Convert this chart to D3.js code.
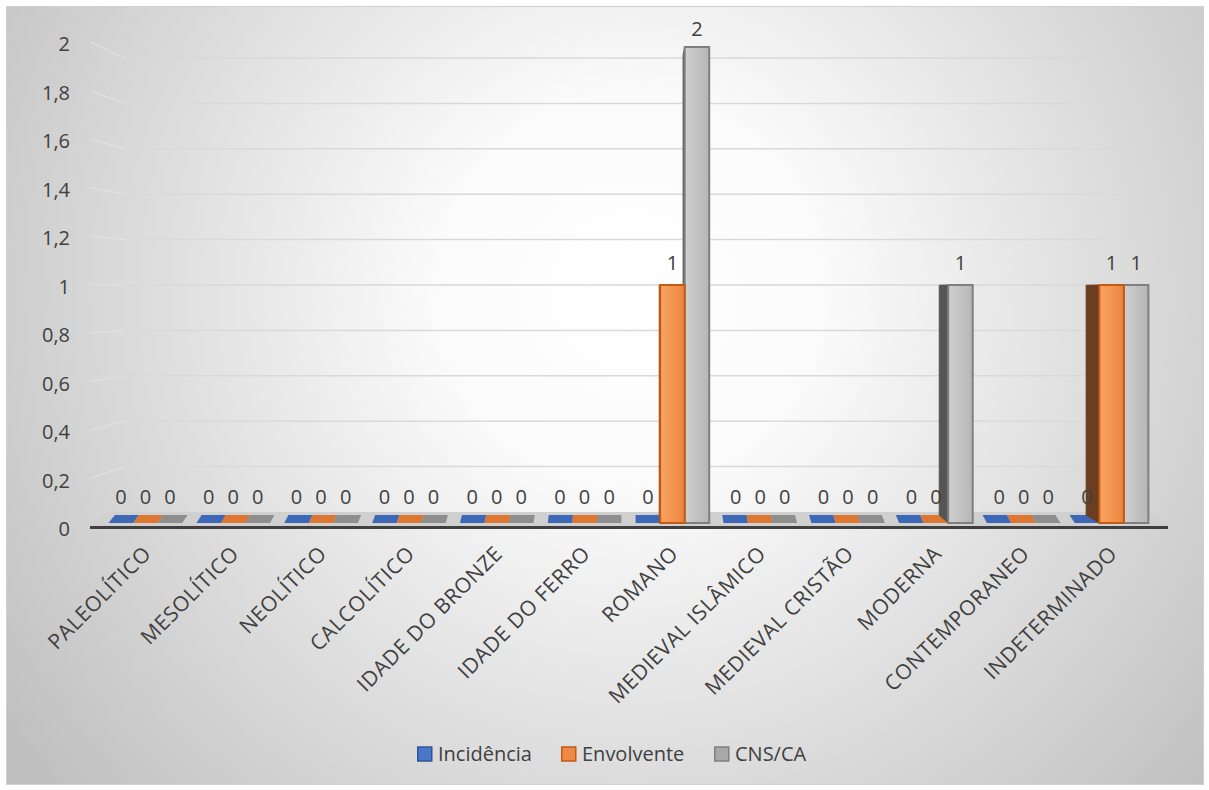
<!DOCTYPE html>
<html>
<head>
<meta charset="utf-8">
<script src="https://cdn.jsdelivr.net/npm/d3@7/dist/d3.min.js"></script>
<style>
  html, body { margin: 0; padding: 0; background: #fff; }
  svg { display: block; font-family: "Open Sans", sans-serif; }
</style>
</head>
<body>
<div class="chart"></div>
<script>
const categories = ["PALEOLÍTICO", "MESOLÍTICO", "NEOLÍTICO", "CALCOLÍTICO", "IDADE DO BRONZE",
  "IDADE DO FERRO", "ROMANO", "MEDIEVAL ISLÂMICO", "MEDIEVAL CRISTÃO", "MODERNA",
  "CONTEMPORANEO", "INDETERMINADO"];
const seriesNames = ["Incidência", "Envolvente", "CNS/CA"];
const incidencia = [0, 0, 0, 0, 0, 0, 0, 0, 0, 0, 0, 0];
const envolvente = [0, 0, 0, 0, 0, 0, 1, 0, 0, 0, 0, 1];
const cnsCa = [0, 0, 0, 0, 0, 0, 2, 0, 0, 1, 0, 1];
const yTicks = [0, 0.2, 0.4, 0.6, 0.8, 1, 1.2, 1.4, 1.6, 1.8, 2];

var w = 1209,
  h = 790,
  vpX = 629,
  vpY = 292;

const seriesValues = [incidencia, envolvente, cnsCa];
const slabColor = ["#3d67b7", "#dc7630", "#8e8e8e"];
const legendFill = ["#4a78c8", "#f08a48", "#a8a8a8"];
const legendStroke = ["#2f5597", "#c55a11", "#7f7f7f"];

const svg = d3.select(".chart").append("svg").attr("width", w).attr("height", h);
const defs = svg.append("defs");

const bg = defs.append("radialGradient").attr("id", "bg")
  .attr("gradientUnits", "userSpaceOnUse")
  .attr("cx", 630).attr("cy", 290).attr("r", 760);
bg.append("stop").attr("offset", "0").attr("stop-color", "#ffffff");
bg.append("stop").attr("offset", "0.25").attr("stop-color", "#fbfbfb");
bg.append("stop").attr("offset", "1").attr("stop-color", "#c0c0c0");

function hGrad(id, c1, c2, c3) {
  const g = defs.append("linearGradient").attr("id", id)
    .attr("x1", "0").attr("x2", "1").attr("y1", "0").attr("y2", "0");
  g.append("stop").attr("offset", "0").attr("stop-color", c1);
  g.append("stop").attr("offset", "0.45").attr("stop-color", c2);
  g.append("stop").attr("offset", "1").attr("stop-color", c3);
}
hGrad("g0", "#5a86d4", "#4a78c8", "#3f68b6");
hGrad("g1", "#f9a466", "#f49652", "#ea8440");
hGrad("g2", "#d0d0d0", "#c4c4c4", "#b6b6b6");

svg.append("rect").attr("x", 0).attr("y", 0).attr("width", w).attr("height", h).attr("fill", "#fff");
svg.append("rect")
  .attr("x", 6.5).attr("y", 6.5).attr("width", 1197).attr("height", 778)
  .attr("fill", "url(#bg)").attr("stroke", "#d0d0d0").attr("stroke-width", 1);

// scales
const x0 = d3.scaleBand().domain(categories).range([101.5, 1155.5]);
const x1 = d3.scaleBand().domain(seriesNames).range([0, x0.bandwidth()]).paddingOuter(0.29);
const yFront = d3.scaleLinear().domain([0, 2]).range([527, 42]);
const yBack = d3.scaleLinear().domain([0, 2]).range([512, 58]);
const yBar = d3.scaleLinear().domain([0, 2]).range([523, 47]);

// back wall gridlines
const grid = svg.append("g");
yTicks.filter((t) => t > 0).forEach((t) => {
  grid.append("path")
    .attr("d", "M90," + yFront(t) + "L125," + yBack(t))
    .attr("fill", "none")
    .attr("stroke", "#e2e2e2")
    .attr("stroke-width", 1.2);
  grid.append("path")
    .attr("d", "M125," + yBack(t) + "L1133," + yBack(t))
    .attr("fill", "none")
    .attr("stroke", "#d9d9d9")
    .attr("stroke-width", 1.5);
});

// y labels
svg.append("g").selectAll("text")
  .data(yTicks)
  .enter()
  .append("text")
  .attr("x", 70)
  .attr("y", (d) => yFront(d) + 2)
  .attr("dy", "0.35em")
  .attr("text-anchor", "end")
  .attr("font-size", 20)
  .attr("fill", "#404040")
  .text((d) => d3.format("")(d).replace(".", ","));

// floor
svg.append("path")
  .attr("d", "M90,526L1168,526L1150,512L108,512Z")
  .attr("fill", "#d0d0d0");
svg.append("line")
  .attr("x1", 90).attr("x2", 1168).attr("y1", 527.5).attr("y2", 527.5)
  .attr("stroke", "#3f3f3f").attr("stroke-width", 3);

// bars
const bars = [];
categories.forEach((c, i) => {
  seriesNames.forEach((s, j) => {
    const xl = x0(c) + x1(s);
    bars.push({ c: c, s: j, v: seriesValues[j][i], xl: xl, xr: xl + x1.bandwidth() });
  });
});

const slabG = svg.append("g");
bars.filter((b) => b.v === 0).forEach((b) => {
  const dl = -(b.xl - vpX) * 0.012, dr = -(b.xr - vpX) * 0.012;
  slabG.append("path")
    .attr("d", "M" + b.xl + "," + yBar(0) + "L" + b.xr + "," + yBar(0) +
      "L" + (b.xr + dr) + "," + (yBar(0) - 8) + "L" + (b.xl + dl) + "," + (yBar(0) - 8) + "Z")
    .attr("fill", slabColor[b.s]);
});

const tall = bars.filter((b) => b.v > 0)
  .sort((a, b) => Math.abs((b.xl + b.xr) / 2 - vpX) - Math.abs((a.xl + a.xr) / 2 - vpX));
const sideColor = ["#2a4a86", "#6b3e1f", "#555555"];
const edgeColor = ["#2f5597", "#c55a11", "#7f7f7f"];
const barG = svg.append("g");
tall.forEach((b) => {
  const yt = yBar(b.v);
  const ytBack = vpY + (yt - vpY) * (0.951 / 0.983);
  const right = (b.xl + b.xr) / 2 < vpX;
  const ex = right ? b.xr : b.xl;
  const dx = -(ex - vpX) * 0.028;
  barG.append("path")
    .attr("d", "M" + ex + "," + yt + "L" + ex + "," + yBar(0) +
      "L" + (ex + dx) + "," + (yBar(0) - 8) + "L" + (ex + dx) + "," + ytBack + "Z")
    .attr("fill", sideColor[b.s])
    .attr("stroke", sideColor[b.s])
    .attr("stroke-width", 1);
  barG.append("rect")
    .attr("x", b.xl).attr("y", yt)
    .attr("width", b.xr - b.xl).attr("height", yBar(0) - yt)
    .attr("fill", "url(#g" + b.s + ")")
    .attr("stroke", edgeColor[b.s])
    .attr("stroke-width", 2);
});

// data labels
svg.append("g").selectAll("text")
  .data(bars)
  .enter()
  .append("text")
  .attr("x", (d) => (d.xl + d.xr) / 2)
  .attr("y", (d) => {
    const yt = yBar(d.v);
    const ytBack = d.v === 0 ? yt - 8 : vpY + (yt - vpY) * (0.951 / 0.983);
    return (yt + ytBack) / 2 - 15;
  })
  .attr("text-anchor", "middle")
  .attr("font-size", 20)
  .attr("fill", "#404040")
  .text((d) => d.v);

// category labels
svg.append("g").selectAll("text")
  .data(categories)
  .enter()
  .append("text")
  .attr("text-anchor", "end")
  .attr("font-size", 21)
  .attr("letter-spacing", 0.6)
  .attr("fill", "#404040")
  .attr("transform", (d) => "translate(" + (x0(d) + x0.bandwidth() / 2 + 7) + ",555) rotate(-45)")
  .text((d) => d);

// legend
const legend = svg.append("g")
  .selectAll("g")
  .data(seriesNames)
  .enter()
  .append("g")
  .attr("transform", (d, i) => "translate(" + [417, 561, 714][i] + ",754)");
legend.append("rect")
  .attr("x", 0.75).attr("y", -7)
  .attr("width", 14).attr("height", 14)
  .attr("fill", (d, i) => legendFill[i])
  .attr("stroke", (d, i) => legendStroke[i])
  .attr("stroke-width", 1.5);
legend.append("text")
  .attr("x", 21)
  .attr("dy", "0.35em")
  .attr("font-size", 20)
  .attr("fill", "#404040")
  .text((d) => d);
</script>
</body>
</html>
